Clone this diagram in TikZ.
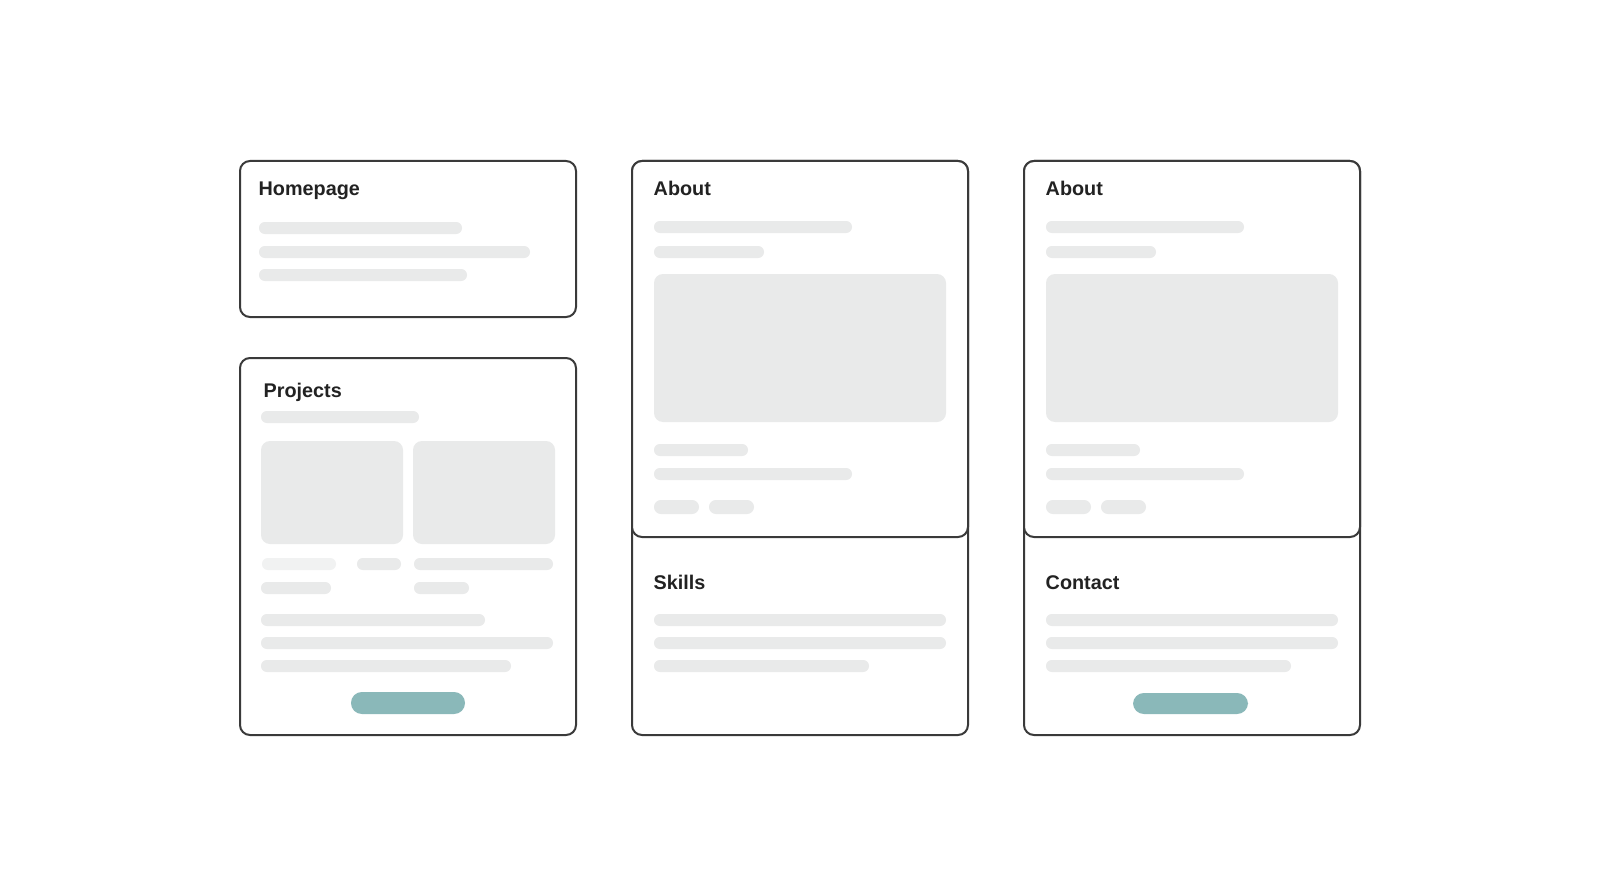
\documentclass[tikz,border=0pt]{standalone}
\usepackage{fontspec}
\setmainfont{Liberation Sans}
\definecolor{frame}{HTML}{3A3A3A}
\definecolor{barc}{HTML}{E9EAEA}
\definecolor{barlight}{HTML}{F1F2F2}
\definecolor{tealc}{HTML}{8AB8B9}
\definecolor{ink}{HTML}{222222}
\begin{document}
\begin{tikzpicture}[x=1pt,y=-1pt,
  card/.style={draw=frame, line width=2pt, rounded corners=10pt, fill=white},
  bar/.style={fill=barc, rounded corners=5.9pt},
  lbar/.style={fill=barlight, rounded corners=5.9pt},
  pill/.style={fill=barc, rounded corners=6.9pt},
  img/.style={fill=barc, rounded corners=9pt},
  btn/.style={fill=tealc, rounded corners=10.9pt},
  title/.style={anchor=base west, inner sep=0pt, text=ink, font=\fontsize{19.8}{24}\selectfont\bfseries}]
\useasboundingbox (0,0) rectangle (1600,896);
\fill[white] (0,0) rectangle (1600,896);
% Homepage
\draw[card] (240,161) rectangle (576,317);
\node[title] (thome) at (258.5,196) {Homepage};
\fill[bar] (259,222) rectangle (462,234);
\fill[bar] (259,246) rectangle (530,258);
\fill[bar] (259,269) rectangle (467,281);
% Projects
\draw[card] (240,358) rectangle (576,735);
\node[title] (tproj) at (263.5,397) {Projects};
\fill[bar] (261,411) rectangle (419,423);
\fill[img] (261,441) rectangle (403,544);
\fill[img] (413,441) rectangle (555,544);
\fill[lbar] (262,558) rectangle (336,570);
\fill[bar] (357,558) rectangle (401,570);
\fill[bar] (414,558) rectangle (553,570);
\fill[bar] (261,582) rectangle (331,594);
\fill[bar] (414,582) rectangle (469,594);
\fill[bar] (261,614) rectangle (485,626);
\fill[bar] (261,637) rectangle (553,649);
\fill[bar] (261,660) rectangle (511,672);
\fill[btn] (351,692) rectangle (465,714);
% Middle column
\draw[card] (632,161) rectangle (968,735);
\draw[card] (632,161) rectangle (968,537);
\node[title] (tabout1) at (653.5,196) {About};
\fill[bar] (654,221) rectangle (852,233);
\fill[bar] (654,246) rectangle (764,258);
\fill[img] (654,274) rectangle (946,422);
\fill[bar] (654,444) rectangle (748,456);
\fill[bar] (654,468) rectangle (852,480);
\fill[pill] (654,500) rectangle (699,514);
\fill[pill] (709,500) rectangle (754,514);
\node[title] (tskills) at (653.5,589) {Skills};
\fill[bar] (654,614) rectangle (946,626);
\fill[bar] (654,637) rectangle (946,649);
\fill[bar] (654,660) rectangle (869,672);
% Right column
\begin{scope}[xshift=392pt]
\draw[card] (632,161) rectangle (968,735);
\draw[card] (632,161) rectangle (968,537);
\node[title] (tabout2) at (653.5,196) {About};
\fill[bar] (654,221) rectangle (852,233);
\fill[bar] (654,246) rectangle (764,258);
\fill[img] (654,274) rectangle (946,422);
\fill[bar] (654,444) rectangle (748,456);
\fill[bar] (654,468) rectangle (852,480);
\fill[pill] (654,500) rectangle (699,514);
\fill[pill] (709,500) rectangle (754,514);
\node[title] (tcontact) at (653.5,589) {Contact};
\fill[bar] (654,614) rectangle (946,626);
\fill[bar] (654,637) rectangle (946,649);
\fill[bar] (654,660) rectangle (899,672);
\fill[btn] (741,693) rectangle (856,714);
\end{scope}
\end{tikzpicture}
\end{document}
